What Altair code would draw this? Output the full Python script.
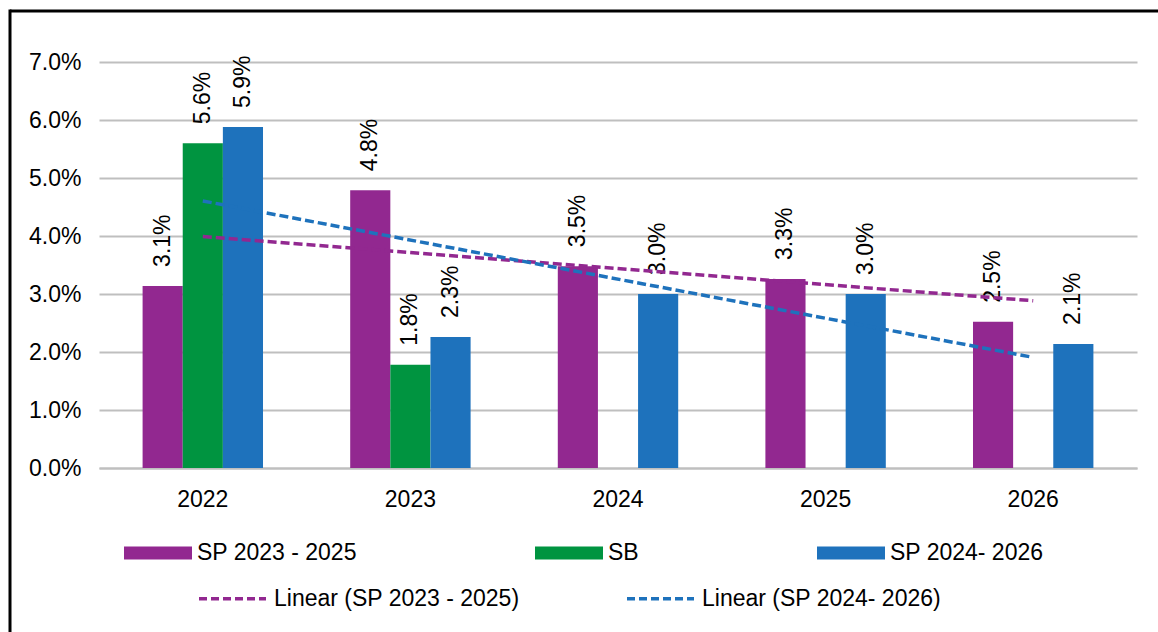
import altair as alt
import pandas as pd

# Growth rates by year for each plan/budget series (fractions, shown as %)
years = ["2022", "2023", "2024", "2025", "2026"]
series_names = ["SP 2023 - 2025", "SB", "SP 2024- 2026"]
sp_2023_2025 = [0.0314, 0.0479, 0.0348, 0.0326, 0.0252]
sb = [0.0560, 0.0178, None, None, None]
sp_2024_2026 = [0.0588, 0.0226, 0.0300, 0.0300, 0.0214]
series_colors = ["#922890", "#009440", "#1E72BC"]

trend_names = ["Linear (SP 2023 - 2025)", "Linear (SP 2024- 2026)"]
trend_colors = ["#922890", "#1E72BC"]

y_ticks = [0.0, 0.01, 0.02, 0.03, 0.04, 0.05, 0.06, 0.07]

FONT = "Liberation Sans"
GRID = "#BFBFBF"

rows = []
for name, vals in zip(series_names, [sp_2023_2025, sb, sp_2024_2026]):
    for i, (yr, v) in enumerate(zip(years, vals)):
        if v is not None:
            rows.append({"year": yr, "idx": i + 1, "series": name, "value": v})
df = pd.DataFrame(rows)

x_enc = alt.X(
    "year:N",
    scale=alt.Scale(domain=years, paddingInner=0.42, paddingOuter=0.21),
    axis=alt.Axis(
        title=None, labelAngle=0, ticks=False, grid=False,
        domain=True, domainColor=GRID, domainWidth=2,
        labelPadding=20, labelFontSize=23, labelFont=FONT, labelColor="black",
    ),
)
y_enc = alt.Y(
    "value:Q",
    scale=alt.Scale(domain=[0, 0.07], nice=False),
    axis=alt.Axis(
        title=None, values=y_ticks, format=".1%", ticks=False, domain=False,
        grid=True, gridColor=GRID, gridWidth=2,
        labelPadding=18, labelFontSize=23, labelFont=FONT, labelColor="black",
    ),
)
xoff = alt.XOffset("series:N", scale=alt.Scale(domain=series_names, paddingInner=0, paddingOuter=0))

base = alt.Chart(df)

bars = base.mark_bar().encode(
    x=x_enc,
    xOffset=xoff,
    y=y_enc,
    color=alt.Color(
        "series:N",
        scale=alt.Scale(domain=series_names, range=series_colors),
        legend=alt.Legend(
            title=None, orient="none", legendX=25, legendY=457,
            direction="horizontal", columns=3, columnPadding=178,
            symbolType="M-1,-0.191H1V0.191H-1Z", symbolSize=4624,
            symbolStrokeWidth=0, symbolOpacity=1,
            labelFontSize=23, labelFont=FONT, labelColor="black",
            labelLimit=400, labelOffset=5, padding=0,
        ),
    ),
)

labels = base.mark_text(
    angle=270, align="left", baseline="middle", dx=19,
    fontSize=23, font=FONT, color="black",
).encode(
    x="year:N",
    xOffset="series:N",
    y="value:Q",
    text=alt.Text("value:Q", format=".1%"),
)

# Linear trend lines fitted to the two strategic-plan series
trend = (
    base.transform_filter(alt.FieldOneOfPredicate(field="series", oneOf=[series_names[0], series_names[2]]))
    .transform_regression("idx", "value", groupby=["series"], method="linear")
    .transform_calculate(year="toString(2021 + datum.idx)", trend="'Linear (' + datum.series + ')'")
    .mark_line(strokeDash=[9, 4], strokeWidth=3.5)
    .encode(
        x="year:N",
        y="value:Q",
        stroke=alt.Stroke(
            "trend:N",
            scale=alt.Scale(domain=trend_names, range=trend_colors),
            legend=alt.Legend(
                title=None, orient="none", legendX=98, legendY=501,
                direction="horizontal", columns=2, columnPadding=100,
                symbolType="stroke", symbolSize=4489, symbolStrokeWidth=3.5,
                symbolDash=[8, 4],
                labelFontSize=23, labelFont=FONT, labelColor="black",
                labelLimit=400, labelOffset=6, padding=0,
            ),
        ),
    )
)

# Outer frame lines
frame = alt.Chart(pd.DataFrame({"k": [0]}))
frame_top = frame.mark_rule(color="black", strokeWidth=3).encode(
    x=alt.value(-89), x2=alt.value(1200), y=alt.value(-51)
)
frame_left = frame.mark_rule(color="black", strokeWidth=3).encode(
    x=alt.value(-89), y=alt.value(-52.5), y2=alt.value(700)
)

chart = (
    alt.layer(bars, labels, trend, frame_top, frame_left)
    .properties(
        width=1038,
        height=406,
        padding={"left": 99, "top": 62, "right": 21, "bottom": 164},
        autosize=alt.AutoSizeParams(type="none"),
        background="white",
    )
    .configure_view(stroke=None)
)

chart.save("out.html", embed_options={"renderer": "svg", "actions": False})
